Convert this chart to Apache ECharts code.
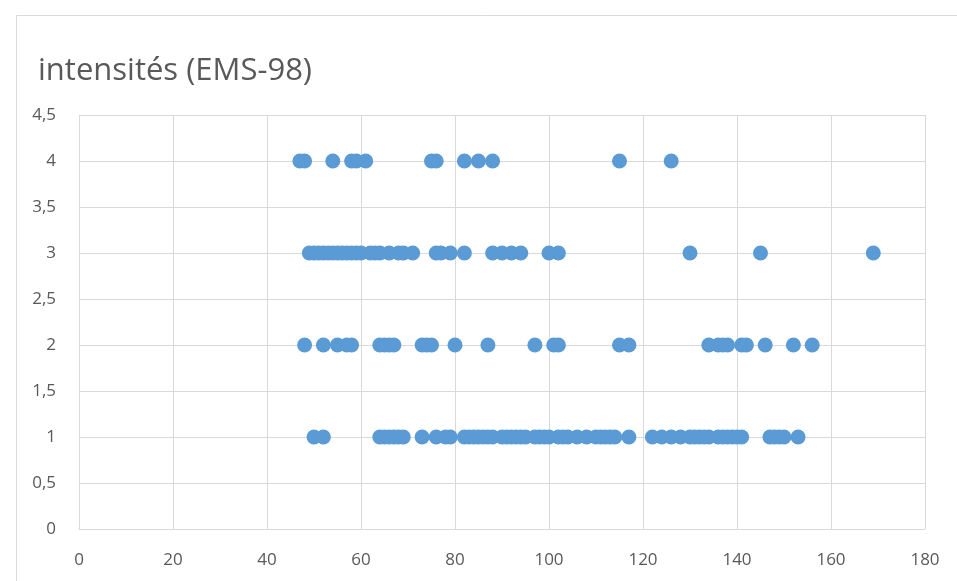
<!DOCTYPE html>
<html><head><meta charset="utf-8">
<script src="https://cdn.jsdelivr.net/npm/echarts@6/dist/echarts.min.js"></script>
<style>html,body{margin:0;padding:0;background:#fff}#c{width:957px;height:581px}</style>
</head><body><div id="c"></div>
<script>
const title = 'intensités (EMS-98)';
const xTicks = [0, 20, 40, 60, 80, 100, 120, 140, 160, 180];
const yTicks = [0, 0.5, 1, 1.5, 2, 2.5, 3, 3.5, 4, 4.5];
const distIntensity4 = [47, 48, 54, 58, 59, 61, 75, 76, 82, 85, 88, 115, 126];
const distIntensity3 = [49, 50, 51, 52, 53, 54, 55, 56, 57, 58, 59, 60, 62, 63, 64, 66, 68, 69, 71, 76, 77, 79, 82, 88, 90, 92, 94, 100, 102, 130, 145, 169];
const distIntensity2 = [48, 52, 55, 57, 58, 64, 65, 66, 67, 73, 74, 75, 80, 87, 97, 101, 102, 115, 117, 134, 136, 137, 138, 141, 142, 146, 152, 156];
const distIntensity1 = [50, 52, 64, 65, 66, 67, 68, 69, 73, 76, 78, 79, 82, 83, 84, 85, 86, 87, 88, 90, 91, 92, 93, 94, 95, 97, 98, 99, 100, 102, 103, 104, 106, 108, 110, 111, 112, 113, 114, 117, 122, 124, 126, 128, 130, 131, 132, 133, 134, 136, 137, 138, 139, 140, 141, 147, 148, 149, 150, 153];

const data = [];
[[1, distIntensity1], [2, distIntensity2], [3, distIntensity3], [4, distIntensity4]].forEach(([y, arr]) => arr.forEach(x => data.push([x, y])));

const fmt = v => String(v).replace('.', ',');
const chart = echarts.init(document.getElementById('c'), null, {renderer: 'canvas'});
chart.setOption({
  animation: false,
  backgroundColor: '#fff',
  graphic: [{type: 'rect', left: 14, top: 13, shape: {width: 1000, height: 700}, style: {fill: 'none', stroke: '#d9d9d9', lineWidth: 1}, silent: true, z: -1}],
  title: {text: title, left: 33, top: 51, textStyle: {fontFamily: 'Open Sans', fontWeight: 'normal', fontSize: 31, color: '#595959'}},
  grid: {left: 79, right: 32, top: 115, bottom: 52},
  xAxis: {
    type: 'value', min: 0, max: 180, interval: 20,
    axisLine: {show: true, lineStyle: {color: '#d9d9d9', width: 1}},
    axisTick: {show: false},
    splitLine: {show: true, lineStyle: {color: '#d9d9d9', width: 1}},
    axisLabel: {color: '#595959', fontFamily: 'Open Sans', fontSize: 17, margin: 23, formatter: v => xTicks.includes(v) ? fmt(v) : ''}
  },
  yAxis: {
    type: 'value', min: 0, max: 4.5, interval: 0.5,
    axisLine: {show: false}, axisTick: {show: false},
    splitLine: {show: true, lineStyle: {color: '#d9d9d9', width: 1}},
    axisLabel: {color: '#595959', fontFamily: 'Open Sans', fontSize: 17, margin: 23, formatter: v => yTicks.includes(v) ? fmt(v) : ''}
  },
  series: [{
    type: 'scatter', data: data, symbol: 'circle', symbolSize: 15,
    itemStyle: {color: '#5b9bd5', opacity: 1}
  }]
});
</script></body></html>
